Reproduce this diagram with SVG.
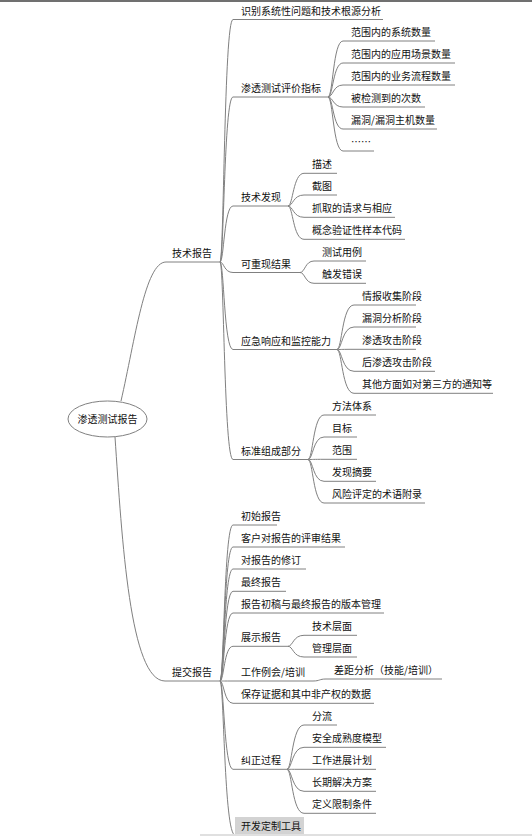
<svg xmlns="http://www.w3.org/2000/svg" width="532" height="836" viewBox="0 0 532 836">
<style>
text{font-family:"Noto Sans CJK SC","Liberation Sans",sans-serif;font-size:10px;fill:#111}
.u{stroke:#808080;stroke-width:1;fill:none}
.c path{stroke:#808080;stroke-width:1;fill:none}
</style>
<rect x="0" y="0" width="532" height="836" fill="#fff"/>
<rect x="0" y="0" width="532" height="2" fill="#707070"/>
<g class="c" id="connectors">
<path d="M121,401 C135,340 145,262 166,262"/>
<path d="M115,437 C122,540 130,681 165,681"/>
<path d="M220,262 C224,262 224,19.5 233,19.5"/>
<path d="M220,262 C224,262 224,97 233,97"/>
<path d="M220,262 C224,262 224,206 233,206"/>
<path d="M220,262 C224,262 224,272.5 233,272.5"/>
<path d="M220,262 C224,262 224,349.5 233,349.5"/>
<path d="M220,262 C224,262 224,459.5 233,459.5"/>
<path d="M328,97 C333,97 333,41 343,41"/>
<path d="M328,97 C333,97 333,63 343,63"/>
<path d="M328,97 C333,97 333,85 343,85"/>
<path d="M328,97 C333,97 333,107 343,107"/>
<path d="M328,97 C333,97 333,129 343,129"/>
<path d="M328,97 C333,97 333,151 343,151"/>
<path d="M288,206 C293,206 293,173.3 304,173.3"/>
<path d="M288,206 C293,206 293,195 304,195"/>
<path d="M288,206 C293,206 293,217.3 304,217.3"/>
<path d="M288,206 C293,206 293,239.3 304,239.3"/>
<path d="M300,272.5 C305,272.5 305,261 314,261"/>
<path d="M300,272.5 C305,272.5 305,283.3 314,283.3"/>
<path d="M337,349.5 C342,349.5 342,305 354,305"/>
<path d="M337,349.5 C342,349.5 342,327 354,327"/>
<path d="M337,349.5 C342,349.5 342,349.3 354,349.3"/>
<path d="M337,349.5 C342,349.5 342,371.3 354,371.3"/>
<path d="M337,349.5 C342,349.5 342,393.3 354,393.3"/>
<path d="M308,459.5 C313,459.5 313,415 324,415"/>
<path d="M308,459.5 C313,459.5 313,437 324,437"/>
<path d="M308,459.5 C313,459.5 313,459.3 324,459.3"/>
<path d="M308,459.5 C313,459.5 313,481.3 324,481.3"/>
<path d="M308,459.5 C313,459.5 313,503 324,503"/>
<path d="M220,681 C224,681 224,525 233,525"/>
<path d="M220,681 C224,681 224,547 233,547"/>
<path d="M220,681 C224,681 224,569 233,569"/>
<path d="M220,681 C224,681 224,591.3 233,591.3"/>
<path d="M220,681 C224,681 224,613 233,613"/>
<path d="M220,681 C224,681 224,646.3 233,646.3"/>
<path d="M220,681 C224,681 224,681 233,681"/>
<path d="M220,681 C224,681 224,703.3 233,703.3"/>
<path d="M220,681 C224,681 224,769.3 233,769.3"/>
<path d="M220,681 C224,681 224,835 235,835"/>
<path d="M288,646.3 C293,646.3 293,635.3 304,635.3"/>
<path d="M288,646.3 C293,646.3 293,657 304,657"/>
<path d="M313,681 C320,681 319,679 326,679"/>
<path d="M287,769.3 C292,769.3 292,725 304,725"/>
<path d="M287,769.3 C292,769.3 292,747.3 304,747.3"/>
<path d="M287,769.3 C292,769.3 292,769.3 304,769.3"/>
<path d="M287,769.3 C292,769.3 292,791.3 304,791.3"/>
<path d="M287,769.3 C292,769.3 292,813.3 304,813.3"/>
</g>
<g id="root"><ellipse cx="107.5" cy="419" rx="39.5" ry="18" fill="#fff" stroke="#808080"/><text x="107.5" y="423" text-anchor="middle">渗透测试报告</text></g>
<g id="n-tech"><line class="u" x1="166" y1="262" x2="220" y2="262"/><text x="172" y="257">技术报告</text></g>
<g id="n-submit"><line class="u" x1="165" y1="681" x2="220" y2="681"/><text x="172" y="676">提交报告</text></g>
<g id="n-t1"><line class="u" x1="233" y1="19.5" x2="383" y2="19.5"/><text x="241" y="14.5">识别系统性问题和技术根源分析</text></g>
<g id="n-t2"><line class="u" x1="233" y1="97" x2="328" y2="97"/><text x="241" y="92">渗透测试评价指标</text></g>
<g id="n-t2-1"><line class="u" x1="343" y1="41" x2="435" y2="41"/><text x="351" y="36">范围内的系统数量</text></g>
<g id="n-t2-2"><line class="u" x1="343" y1="63" x2="455" y2="63"/><text x="351" y="58">范围内的应用场景数量</text></g>
<g id="n-t2-3"><line class="u" x1="343" y1="85" x2="455" y2="85"/><text x="351" y="80">范围内的业务流程数量</text></g>
<g id="n-t2-4"><line class="u" x1="343" y1="107" x2="425" y2="107"/><text x="351" y="102">被检测到的次数</text></g>
<g id="n-t2-5"><line class="u" x1="343" y1="129" x2="437" y2="129"/><text x="351" y="124">漏洞/漏洞主机数量</text></g>
<g id="n-t2-6"><line class="u" x1="343" y1="151" x2="374" y2="151"/><text x="351" y="146">……</text></g>
<g id="n-t3"><line class="u" x1="233" y1="206" x2="288" y2="206"/><text x="241" y="201">技术发现</text></g>
<g id="n-t3-1"><line class="u" x1="304" y1="173.3" x2="337" y2="173.3"/><text x="312" y="168.3">描述</text></g>
<g id="n-t3-2"><line class="u" x1="304" y1="195" x2="337" y2="195"/><text x="312" y="190">截图</text></g>
<g id="n-t3-3"><line class="u" x1="304" y1="217.3" x2="395" y2="217.3"/><text x="312" y="212.3">抓取的请求与相应</text></g>
<g id="n-t3-4"><line class="u" x1="304" y1="239.3" x2="405" y2="239.3"/><text x="312" y="234.3">概念验证性样本代码</text></g>
<g id="n-t4"><line class="u" x1="233" y1="272.5" x2="300" y2="272.5"/><text x="241" y="267.5">可重现结果</text></g>
<g id="n-t4-1"><line class="u" x1="314" y1="261" x2="366" y2="261"/><text x="322" y="256">测试用例</text></g>
<g id="n-t4-2"><line class="u" x1="314" y1="283.3" x2="366" y2="283.3"/><text x="322" y="278.3">触发错误</text></g>
<g id="n-t5"><line class="u" x1="233" y1="349.5" x2="337" y2="349.5"/><text x="241" y="344.5">应急响应和监控能力</text></g>
<g id="n-t5-1"><line class="u" x1="354" y1="305" x2="416" y2="305"/><text x="362" y="300">情报收集阶段</text></g>
<g id="n-t5-2"><line class="u" x1="354" y1="327" x2="416" y2="327"/><text x="362" y="322">漏洞分析阶段</text></g>
<g id="n-t5-3"><line class="u" x1="354" y1="349.3" x2="416" y2="349.3"/><text x="362" y="344.3">渗透攻击阶段</text></g>
<g id="n-t5-4"><line class="u" x1="354" y1="371.3" x2="435" y2="371.3"/><text x="362" y="366.3">后渗透攻击阶段</text></g>
<g id="n-t5-5"><line class="u" x1="354" y1="393.3" x2="493" y2="393.3"/><text x="362" y="388.3">其他方面如对第三方的通知等</text></g>
<g id="n-t6"><line class="u" x1="233" y1="459.5" x2="308" y2="459.5"/><text x="241" y="454.5">标准组成部分</text></g>
<g id="n-t6-1"><line class="u" x1="324" y1="415" x2="376" y2="415"/><text x="332" y="410">方法体系</text></g>
<g id="n-t6-2"><line class="u" x1="324" y1="437" x2="357" y2="437"/><text x="332" y="432">目标</text></g>
<g id="n-t6-3"><line class="u" x1="324" y1="459.3" x2="357" y2="459.3"/><text x="332" y="454.3">范围</text></g>
<g id="n-t6-4"><line class="u" x1="324" y1="481.3" x2="376" y2="481.3"/><text x="332" y="476.3">发现摘要</text></g>
<g id="n-t6-5"><line class="u" x1="324" y1="503" x2="425" y2="503"/><text x="332" y="498">风险评定的术语附录</text></g>
<g id="n-s1"><line class="u" x1="233" y1="525" x2="277" y2="525"/><text x="241" y="520">初始报告</text></g>
<g id="n-s2"><line class="u" x1="233" y1="547" x2="345" y2="547"/><text x="241" y="542">客户对报告的评审结果</text></g>
<g id="n-s3"><line class="u" x1="233" y1="569" x2="306" y2="569"/><text x="241" y="564">对报告的修订</text></g>
<g id="n-s4"><line class="u" x1="233" y1="591.3" x2="286" y2="591.3"/><text x="241" y="586.3">最终报告</text></g>
<g id="n-s5"><line class="u" x1="233" y1="613" x2="384" y2="613"/><text x="241" y="608">报告初稿与最终报告的版本管理</text></g>
<g id="n-s6"><line class="u" x1="233" y1="646.3" x2="288" y2="646.3"/><text x="241" y="641.3">展示报告</text></g>
<g id="n-s6-1"><line class="u" x1="304" y1="635.3" x2="357" y2="635.3"/><text x="312" y="630.3">技术层面</text></g>
<g id="n-s6-2"><line class="u" x1="304" y1="657" x2="357" y2="657"/><text x="312" y="652">管理层面</text></g>
<g id="n-s7"><line class="u" x1="233" y1="681" x2="313" y2="681"/><text x="241" y="676">工作例会/培训</text></g>
<g id="n-s7-1"><line class="u" x1="326" y1="679" x2="442" y2="679"/><text x="334" y="674">差距分析（技能/培训）</text></g>
<g id="n-s8"><line class="u" x1="233" y1="703.3" x2="374" y2="703.3"/><text x="241" y="698.3">保存证据和其中非产权的数据</text></g>
<g id="n-s9"><line class="u" x1="233" y1="769.3" x2="287" y2="769.3"/><text x="241" y="764.3">纠正过程</text></g>
<g id="n-s9-1"><line class="u" x1="304" y1="725" x2="337" y2="725"/><text x="312" y="720">分流</text></g>
<g id="n-s9-2"><line class="u" x1="304" y1="747.3" x2="386" y2="747.3"/><text x="312" y="742.3">安全成熟度模型</text></g>
<g id="n-s9-3"><line class="u" x1="304" y1="769.3" x2="376" y2="769.3"/><text x="312" y="764.3">工作进展计划</text></g>
<g id="n-s9-4"><line class="u" x1="304" y1="791.3" x2="376" y2="791.3"/><text x="312" y="786.3">长期解决方案</text></g>
<g id="n-s9-5"><line class="u" x1="304" y1="813.3" x2="376" y2="813.3"/><text x="312" y="808.3">定义限制条件</text></g>
<g id="n-s10"><rect x="235" y="817" width="69" height="17" fill="#d3d3d3"/><text x="241" y="829.5">开发定制工具</text></g>
<rect x="200" y="834" width="332" height="2" fill="#e0e0e0"/>
</svg>
